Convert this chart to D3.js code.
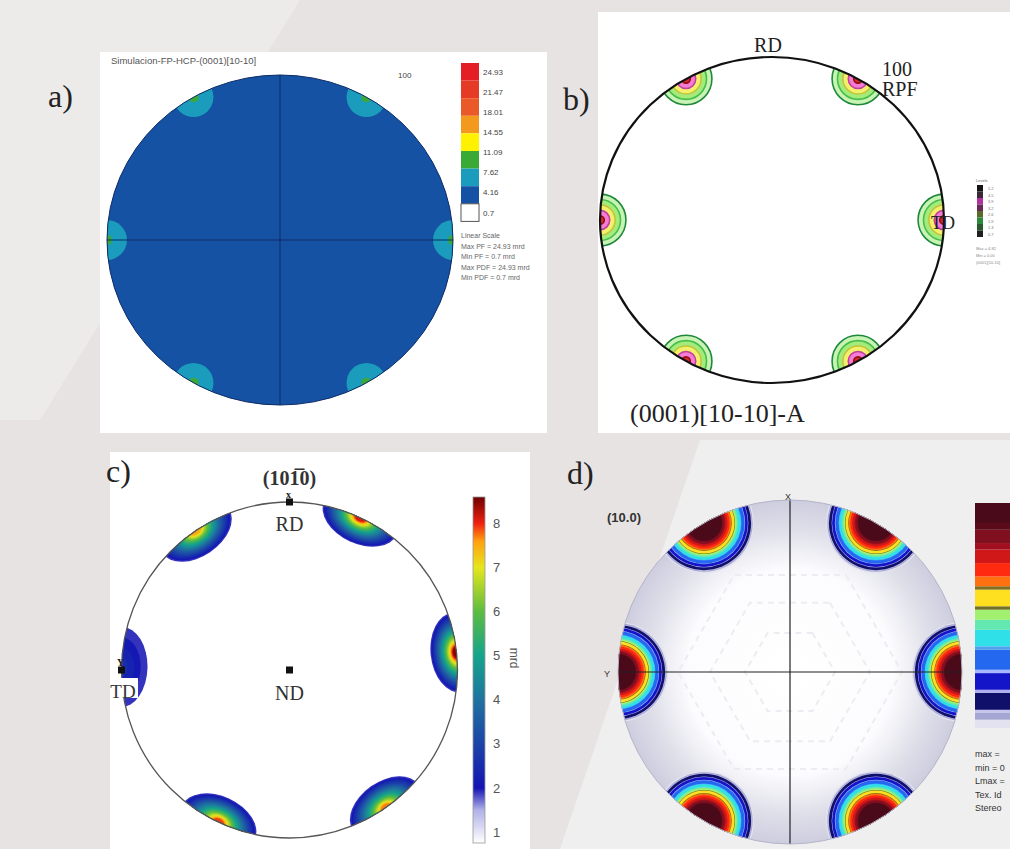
<!DOCTYPE html>
<html>
<head>
<meta charset="utf-8">
<script src="https://cdn.jsdelivr.net/npm/d3@7"></script>
<style>
  body { margin: 0; background: #e8e4e4; }
  svg { display: block; }
</style>
</head>
<body>
<svg id="fig" width="1010" height="849"></svg>
<script>
// ---------- data ----------
// a) simulated (0001)[10-10] pole figure, linear scale in mrd
const aLevels = [0.7, 4.16, 7.62, 11.09, 14.55, 18.01, 21.47, 24.93]
const aColors = ['#ffffff', '#1652a3', '#1b9cbd', '#3aa935', '#fff200', '#f39a1e', '#ea5a28', '#e53a26', '#e31e24']
const aAngles = [0, 60, 120, 180, 240, 300]
const aPeaks = [8.8, 8.8, 8.8, 8.8, 8.8, 8.8]
const aBackground = 2
const aNotes = ['Linear Scale', 'Max PF = 24.93 mrd', 'Min PF = 0.7 mrd', 'Max PDF = 24.93 mrd', 'Min PDF = 0.7 mrd']

// b) (0001)[10-10]-A, contour levels
const bLevels = [1, 2, 3, 4, 5]
const bFills = ['#c9f3b4', '#a3ec7c', '#f5f06c', '#f57bd6', '#d8262c']
const bStrokes = ['#1f8a3c', '#45bf4a', '#c2c43a', '#c0409e', '#8c1010']
const bAngles = [0, 60, 120, 180, 240, 300]
const bPeaks = [5.8, 5.8, 5.8, 5.8, 5.8, 5.8]
const bBarColors = ['#141414', '#3a2a38', '#b2309c', '#6a2a58', '#5c6a2a', '#2c8a3a', '#2a5a2c', '#202020']
const bBarLabels = ['5.2', '4.5', '3.9', '3.2', '2.6', '1.9', '1.3', '0.7']

// c) (10-10) pole figure, mrd
const cAngles = [6, 65, 124, 179, 245, 305]
const cPeaks = [8.5, 8.2, 7.6, 2.5, 8.0, 7.7]
const cTicks = [1, 2, 3, 4, 5, 6, 7, 8]
const cStopValues = [0.75, 1.5, 2, 3, 4, 5, 6, 7, 7.6, 8, 8.6]
const cStopColors = ['#ffffff', '#b0b0e8', '#1414b4', '#1c44a8', '#1f73a0', '#14a48c', '#5cbc40', '#e6e61e', '#ffa010', '#f02010', '#6e0000']

// d) (10.0) pole figure, stepped colour bands (fraction of max)
const dAngles = [0, 60, 120, 180, 240, 300]
const dLevels = [0, 0.037, 0.067, 0.081, 0.156, 0.170, 0.244, 0.259, 0.348, 0.363, 0.437, 0.481, 0.526, 0.541, 0.615, 0.630, 0.674, 0.733, 0.793, 0.822, 0.881, 0.911]
const dColors = ['#e2e2f0', '#a6a6d2', '#c4c4ec', '#10106a', '#b0b0f0', '#1414c8', '#a8b8ff', '#2468f0', '#50a0f0', '#30e0e8', '#62e8b0', '#a2f070', '#707028', '#ffe020', '#807020', '#ff7010', '#ff2a10', '#d01818', '#a01020', '#801020', '#5a0a18', '#4a0a1a']
const dNotes = ['max = ', 'min = 0', 'Lmax =', 'Tex. Id', 'Stereo']

// ---------- drawing ----------
const svg = d3.select('#fig')
const defs = svg.append('defs')
const serif = '"Liberation Serif", "Times New Roman", serif'
const sans = '"Liberation Sans", Arial, sans-serif'

svg.append('rect').attr('width', 1010).attr('height', 849).attr('fill', '#e7e3e3')
// faint watermark shapes in the background
svg.append('path').attr('d', 'M0,0 L300,0 L40,420 L0,420 Z').attr('fill', '#f1efef').attr('opacity', 0.6)
svg.append('path').attr('d', 'M560,849 L700,440 L1010,440 L1010,849 Z').attr('fill', '#f3f1f1').attr('opacity', 0.8)

const rad = a => a * Math.PI / 180

// ===== a) =====
const A = { cx: 280, cy: 240, rx: 173, ry: 165 }
const gA = svg.append('g')
gA.append('rect').attr('x', 100).attr('y', 52).attr('width', 447).attr('height', 381).attr('fill', '#fff')
defs.append('clipPath').attr('id', 'clipA').append('ellipse')
  .attr('cx', A.cx).attr('cy', A.cy).attr('rx', A.rx).attr('ry', A.ry)
const aColor = d3.scaleThreshold().domain(aLevels).range(aColors)
const aRing = d3.scaleLinear().domain([0, 10]).range([0, 43])
gA.append('ellipse').attr('cx', A.cx).attr('cy', A.cy).attr('rx', A.rx).attr('ry', A.ry)
  .attr('fill', aColor(aBackground))
const aPoles = gA.append('g').attr('clip-path', 'url(#clipA)')
aAngles.forEach((ang, i) => {
  const x = A.cx + A.rx * Math.cos(rad(ang)), y = A.cy - A.ry * Math.sin(rad(ang))
  aPoles.selectAll(null)
    .data(aLevels.filter(L => L > aBackground && L < aPeaks[i]))
    .join('circle')
    .attr('cx', x).attr('cy', y)
    .attr('r', L => aRing(aPeaks[i] - L))
    .attr('fill', L => aColor(L))
})
aPoles.append('line').attr('x1', A.cx - A.rx).attr('x2', A.cx + A.rx).attr('y1', A.cy).attr('y2', A.cy)
  .attr('stroke', '#0c2a66').attr('stroke-width', 1)
aPoles.append('line').attr('x1', A.cx).attr('x2', A.cx).attr('y1', A.cy - A.ry).attr('y2', A.cy + A.ry)
  .attr('stroke', '#0c2a66').attr('stroke-width', 1)
gA.append('ellipse').attr('cx', A.cx).attr('cy', A.cy).attr('rx', A.rx).attr('ry', A.ry)
  .attr('fill', 'none').attr('stroke', '#0c2a66').attr('stroke-width', 1)

// colour legend
const aBoxH = 17.6, aBoxTop = 63
const aBox = d3.scaleBand().domain(d3.range(aColors.length)).range([aBoxTop, aBoxTop + aBoxH * aColors.length])
gA.selectAll('.abox').data(aColors.slice().reverse()).join('rect')
  .attr('x', 461).attr('y', (d, i) => aBox(i)).attr('width', 18).attr('height', aBox.bandwidth())
  .attr('fill', d => d).attr('stroke', (d, i) => i === aColors.length - 1 ? '#555' : 'none').attr('stroke-width', 1)
const aLab = d3.scalePoint().domain(aLevels.slice().reverse())
  .range([aBox(0) + aBox.bandwidth() / 2, aBox(aColors.length - 1) + aBox.bandwidth() / 2])
gA.selectAll('.alab').data(aLevels.slice().reverse()).join('text')
  .attr('x', 483).attr('y', d => aLab(d) + 3)
  .attr('font-family', sans).attr('font-size', 8).attr('fill', '#444')
  .text(d => String(d))
gA.selectAll('.anote').data(aNotes).join('text')
  .attr('x', 461).attr('y', (d, i) => 238 + i * 10.5)
  .attr('font-family', sans).attr('font-size', 7).attr('fill', '#666').text(d => d)
gA.append('text').attr('x', 111).attr('y', 64).attr('font-family', sans).attr('font-size', 9.5)
  .attr('fill', '#555').text('Simulacion-FP-HCP-(0001)[10-10]')
gA.append('text').attr('x', 398).attr('y', 78).attr('font-family', sans).attr('font-size', 8)
  .attr('fill', '#444').text('100')
svg.append('text').attr('x', 48).attr('y', 107).attr('font-family', serif).attr('font-size', 32)
  .attr('fill', '#222').text('a)')

// ===== b) =====
const B = { cx: 772, cy: 220, rx: 172, ry: 163 }
const gB = svg.append('g')
gB.append('rect').attr('x', 598).attr('y', 12).attr('width', 412).attr('height', 421).attr('fill', '#fff')
defs.append('clipPath').attr('id', 'clipB').append('ellipse')
  .attr('cx', B.cx).attr('cy', B.cy).attr('rx', B.rx).attr('ry', B.ry)
const bRing = d3.scaleLinear().domain([0, 5]).range([0, 27])
const bPoles = gB.append('g').attr('clip-path', 'url(#clipB)')
bAngles.forEach((ang, i) => {
  const x = B.cx + B.rx * Math.cos(rad(ang)), y = B.cy - B.ry * Math.sin(rad(ang))
  bPoles.selectAll(null).data(bLevels.filter(L => L < bPeaks[i])).join('circle')
    .attr('cx', x).attr('cy', y)
    .attr('r', L => bRing(bPeaks[i] - L))
    .attr('fill', (L, j) => bFills[j]).attr('stroke', (L, j) => bStrokes[j]).attr('stroke-width', 1.6)
})
gB.append('ellipse').attr('cx', B.cx).attr('cy', B.cy).attr('rx', B.rx).attr('ry', B.ry)
  .attr('fill', 'none').attr('stroke', '#111').attr('stroke-width', 2.2)
gB.append('text').attr('x', B.cx - 4).attr('y', 52).attr('text-anchor', 'middle')
  .attr('font-family', serif).attr('font-size', 20).attr('fill', '#222').text('RD')
gB.append('text').attr('x', 882).attr('y', 76).attr('font-family', serif).attr('font-size', 20)
  .attr('fill', '#222').text('100')
gB.append('text').attr('x', 882).attr('y', 96).attr('font-family', serif).attr('font-size', 20)
  .attr('fill', '#222').text('RPF')
gB.append('text').attr('x', 931).attr('y', 229).attr('font-family', serif).attr('font-size', 18)
  .attr('fill', '#222').text('TD')
gB.append('text').attr('x', 630).attr('y', 422).attr('font-family', serif).attr('font-size', 26)
  .attr('fill', '#222').text('(0001)[10-10]-A')
// small level bar
const bBar = d3.scaleBand().domain(d3.range(bBarColors.length)).range([185, 237])
gB.append('text').attr('x', 976).attr('y', 182).attr('font-family', sans).attr('font-size', 4).attr('fill', '#666').text('Levels')
gB.selectAll('.bbar').data(bBarColors).join('rect')
  .attr('x', 977).attr('y', (d, i) => bBar(i)).attr('width', 6).attr('height', bBar.bandwidth()).attr('fill', d => d)
gB.selectAll('.blab').data(bBarLabels).join('text')
  .attr('x', 988).attr('y', (d, i) => bBar(i) + 5).attr('font-family', sans).attr('font-size', 4)
  .attr('fill', '#777').text(d => d)
gB.selectAll('.bnote').data(['Max = 4.82', 'Min = 0.00', '(0001)[10-10]']).join('text')
  .attr('x', 976).attr('y', (d, i) => 250 + i * 7).attr('font-family', sans).attr('font-size', 4)
  .attr('fill', '#888').text(d => d)
svg.append('text').attr('x', 563).attr('y', 110).attr('font-family', serif).attr('font-size', 32)
  .attr('fill', '#222').text('b)')

// ===== c) =====
const C = { cx: 289.5, cy: 670, r: 168 }
const gC = svg.append('g')
gC.append('rect').attr('x', 110).attr('y', 452).attr('width', 420).attr('height', 397).attr('fill', '#fff')
defs.append('clipPath').attr('id', 'clipC').append('circle').attr('cx', C.cx).attr('cy', C.cy).attr('r', C.r)
const cColor = d3.scaleLinear().domain(cStopValues).range(cStopColors).clamp(true)
const cThresholds = d3.range(1.8, 8.6, 0.2)
const cPoles = gC.append('g').attr('clip-path', 'url(#clipC)')
cAngles.forEach((ang, i) => {
  const x = C.cx + C.r * Math.cos(rad(ang)), y = C.cy - C.r * Math.sin(rad(ang))
  const shrink = d3.scalePow().exponent(0.6).domain([cPeaks[i], 1.8]).range([0.12, 1])
  cPoles.append('g').attr('transform', `translate(${x},${y}) rotate(${-ang})`)
    .selectAll('ellipse').data(cThresholds.filter(L => L < cPeaks[i])).join('ellipse')
    .attr('rx', L => 26 * shrink(L)).attr('ry', L => 40 * shrink(L))
    .attr('fill', L => cColor(L + 0.1))
})
gC.append('circle').attr('cx', C.cx).attr('cy', C.cy).attr('r', C.r)
  .attr('fill', 'none').attr('stroke', '#555').attr('stroke-width', 1.3)
// reference markers
const cMarks = [
  { x: C.cx, y: C.cy - C.r, glyph: 'x' },
  { x: C.cx - C.r, y: C.cy, glyph: 'Y' },
  { x: C.cx, y: C.cy, glyph: '' }
]
gC.append('rect').attr('x', 112).attr('y', 678).attr('width', 26).attr('height', 20).attr('fill', '#fff')
gC.selectAll('.cmark').data(cMarks).join('rect')
  .attr('x', d => d.x - 3.5).attr('y', d => d.y - 3.5).attr('width', 7).attr('height', 7).attr('fill', '#111')
gC.selectAll('.cglyph').data(cMarks.filter(d => d.glyph)).join('text')
  .attr('x', d => d.x - 1).attr('y', d => d.y - 4).attr('text-anchor', 'middle')
  .attr('font-family', serif).attr('font-weight', 'bold').attr('font-size', 10).attr('fill', '#222').text(d => d.glyph)
gC.append('text').attr('x', C.cx).attr('y', 485).attr('text-anchor', 'middle').attr('font-family', serif)
  .attr('font-weight', 'bold').attr('font-size', 20).attr('fill', '#333').text('(101\u03050)')
gC.append('text').attr('x', C.cx).attr('y', 531).attr('text-anchor', 'middle').attr('font-family', serif)
  .attr('font-size', 20).attr('fill', '#333').text('RD')
gC.append('text').attr('x', C.cx).attr('y', 700).attr('text-anchor', 'middle').attr('font-family', serif)
  .attr('font-size', 20).attr('fill', '#333').text('ND')
gC.append('text').attr('x', 123).attr('y', 698).attr('text-anchor', 'middle').attr('font-family', serif)
  .attr('font-size', 19).attr('fill', '#333').text('TD')
// colour bar
const cBarY = d3.scaleLinear().domain([0.75, 8.6]).range([843, 497])
const grad = defs.append('linearGradient').attr('id', 'cGrad').attr('x1', 0).attr('x2', 0).attr('y1', 1).attr('y2', 0)
grad.selectAll('stop').data(cStopValues).join('stop')
  .attr('offset', v => (v - 0.75) / (8.6 - 0.75)).attr('stop-color', (v, i) => cStopColors[i])
gC.append('rect').attr('x', 473).attr('y', 497).attr('width', 12).attr('height', 346)
  .attr('fill', 'url(#cGrad)').attr('stroke', '#999').attr('stroke-width', 0.8)
const cAxis = gC.append('g').attr('transform', 'translate(485,0)')
  .call(d3.axisRight(cBarY).tickValues(cTicks).tickSize(0).tickPadding(8))
cAxis.select('.domain').remove()
cAxis.selectAll('text').attr('font-family', sans).attr('font-size', 13).attr('fill', '#555')
gC.append('text').attr('transform', 'translate(510,658) rotate(90)').attr('text-anchor', 'middle')
  .attr('font-family', sans).attr('font-size', 12).attr('fill', '#555').text('mrd')
svg.append('text').attr('x', 106).attr('y', 482).attr('font-family', serif).attr('font-size', 32)
  .attr('fill', '#222').text('c)')

// ===== d) =====
const D = { cx: 790, cy: 672, r: 172 }
const gD = svg.append('g')
const bgGrad = defs.append('radialGradient').attr('id', 'dBg')
bgGrad.append('stop').attr('offset', 0).attr('stop-color', '#ffffff')
bgGrad.append('stop').attr('offset', 0.6).attr('stop-color', '#fcfcfe')
bgGrad.append('stop').attr('offset', 0.82).attr('stop-color', '#e0e0ea')
bgGrad.append('stop').attr('offset', 1).attr('stop-color', '#cdcddf')
defs.append('clipPath').attr('id', 'clipD').append('circle').attr('cx', D.cx).attr('cy', D.cy).attr('r', D.r)
gD.append('circle').attr('cx', D.cx).attr('cy', D.cy).attr('r', D.r).attr('fill', 'url(#dBg)')
const dIn = gD.append('g').attr('clip-path', 'url(#clipD)')
// faint hexagonal rings in the centre
const hex = d3.lineRadial().curve(d3.curveLinearClosed)
;[45, 80, 112].forEach(r => {
  dIn.append('path').attr('transform', `translate(${D.cx},${D.cy})`)
    .attr('d', hex(d3.range(6).map(k => [rad(k * 60 + 30), r])))
    .attr('fill', 'none').attr('stroke', '#ececf2').attr('stroke-width', 2).attr('stroke-dasharray', '6,5')
})
const dRing = d3.scaleLinear().domain([0, 1]).range([50, 14])
dAngles.forEach(ang => {
  const x = D.cx + D.r * Math.cos(rad(ang)), y = D.cy - D.r * Math.sin(rad(ang))
  dIn.selectAll(null).data(dLevels).join('circle')
    .attr('cx', x).attr('cy', y).attr('r', v => dRing(v))
    .attr('fill', (v, i) => dColors[i])
})
dIn.append('line').attr('x1', D.cx - D.r).attr('x2', D.cx + D.r).attr('y1', D.cy).attr('y2', D.cy)
  .attr('stroke', '#222').attr('stroke-width', 1.2)
dIn.append('line').attr('x1', D.cx).attr('x2', D.cx).attr('y1', D.cy - D.r).attr('y2', D.cy + D.r)
  .attr('stroke', '#222').attr('stroke-width', 1.2)
gD.append('circle').attr('cx', D.cx).attr('cy', D.cy).attr('r', D.r)
  .attr('fill', 'none').attr('stroke', '#b4b4c8').attr('stroke-width', 1)
gD.append('text').attr('x', 788).attr('y', 500).attr('text-anchor', 'middle').attr('font-family', sans)
  .attr('font-size', 9).attr('fill', '#333').text('X')
gD.append('text').attr('x', 607).attr('y', 677).attr('text-anchor', 'middle').attr('font-family', sans)
  .attr('font-size', 9).attr('fill', '#333').text('Y')
gD.append('text').attr('x', 607).attr('y', 522).attr('font-family', sans).attr('font-weight', 'bold')
  .attr('font-size', 13).attr('fill', '#333').text('(10.0)')
// stepped colour bar
const dBarY = d3.scaleLinear().domain([0, 1]).range([728, 503])
gD.selectAll('.dbar').data(dLevels).join('rect')
  .attr('x', 975).attr('width', 40)
  .attr('y', (v, i) => dBarY(i + 1 < dLevels.length ? dLevels[i + 1] : 1))
  .attr('height', (v, i) => dBarY(v) - dBarY(i + 1 < dLevels.length ? dLevels[i + 1] : 1))
  .attr('fill', (v, i) => dColors[i])
gD.selectAll('.dnote').data(dNotes).join('text')
  .attr('x', 975).attr('y', (d, i) => 757 + i * 13.5).attr('font-family', sans).attr('font-size', 9)
  .attr('fill', '#333').text(d => d)
svg.append('text').attr('x', 567).attr('y', 484).attr('font-family', serif).attr('font-size', 32)
  .attr('fill', '#222').text('d)')
</script>
</body>
</html>
